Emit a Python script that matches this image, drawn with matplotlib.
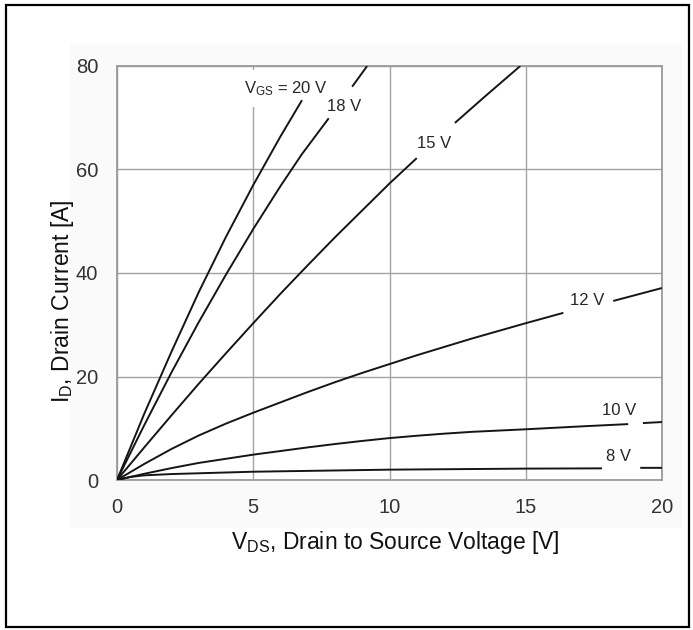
import numpy as np
import matplotlib
matplotlib.use("Agg")
import matplotlib.pyplot as plt
from matplotlib.patches import Rectangle

plt.rcParams['font.family'] = ['Liberation Sans', 'DejaVu Sans']
plt.rcParams['mathtext.default'] = 'regular'

nan = np.nan

# Output characteristics: drain current vs drain-source voltage per gate voltage.
# NaN entries mark where each curve is interrupted by its label.
vds_20 = [0, 1, 2, 3, 4, 5, 6, 6.79]
id_20 = [0, 12.8, 24.8, 36.3, 47.0, 57.0, 66.4, 73.4]

vds_18 = [0, 1, 2, 3, 4, 5, 6, 6.79, 7.77, nan, 8.63, 9.18]
id_18 = [0, 10.6, 20.8, 30.5, 39.7, 48.5, 56.8, 63.0, 69.9, nan, 76.0, 80]

vds_15 = [0, 1, 2, 3, 4, 5, 6, 7, 8, 9, 10, 11.0, nan, 12.4, 13.5, 14.8]
id_15 = [0, 6.3, 12.5, 18.6, 24.5, 30.3, 36.0, 41.5, 46.9, 52.1, 57.3, 62.2,
         nan, 69.0, 74.1, 80]

vds_12 = [0, 1, 2, 3, 4, 5, 6, 7, 8, 9, 10, 11, 12, 13, 14, 15, 16.38,
          nan, 18.21, 19, 20]
id_12 = [0, 3.1, 6.0, 8.6, 10.9, 13.0, 15.0, 17.0, 18.9, 20.7, 22.4, 24.1,
         25.7, 27.3, 28.8, 30.3, 32.3, nan, 34.6, 35.7, 37.1]

vds_10 = [0, 1, 2, 3, 4, 5, 6, 7, 8, 9, 10, 11, 12, 13, 14, 15, 17, 18.76,
          nan, 19.3, 20]
id_10 = [0, 1.2, 2.3, 3.3, 4.1, 4.9, 5.6, 6.3, 6.95, 7.55, 8.1, 8.55, 8.95,
         9.3, 9.55, 9.8, 10.35, 10.8, nan, 11.0, 11.2]

vds_8 = [0, 0.5, 1, 2, 3, 5, 10, 15, 17.8, nan, 19.2, 20]
id_8 = [0, 0.6, 0.9, 1.15, 1.3, 1.6, 2.0, 2.2, 2.25, nan, 2.35, 2.35]

curves = [
    (vds_20, id_20), (vds_18, id_18), (vds_15, id_15),
    (vds_12, id_12), (vds_10, id_10), (vds_8, id_8),
]

# Curve labels and where they sit (V, A)
curve_labels = [r'V$_{GS}$ = 20 V', '18 V', '15 V', '12 V', '10 V', '8 V']
label_x = [6.2, 8.33, 11.62, 17.24, 18.43, 18.4]
label_y = [75.6, 72.1, 65.1, 34.65, 13.5, 4.5]

x_ticks = [0, 5, 10, 15, 20]
y_ticks = [0, 20, 40, 60, 80]

W, H = 693, 630
fig = plt.figure(figsize=(W / 100, H / 100), dpi=100)
fig.patch.set_facecolor('white')

# faint scanned backdrop behind the chart and a black frame round the figure
fig.patches.append(Rectangle((70 / W, 1 - 528 / H), (682 - 70) / W, (528 - 43) / H,
                             transform=fig.transFigure, facecolor='#fafafa',
                             edgecolor='none', zorder=-2))
fig.patches.append(Rectangle((6 / W, 1 - 627 / H), (689 - 6) / W, (627 - 5) / H,
                             transform=fig.transFigure, facecolor='none',
                             edgecolor='black', linewidth=1.6, zorder=5))

ax = fig.add_axes([117 / W, 1 - 480 / H, (662 - 117) / W, (480 - 66) / H])
ax.set_facecolor('white')

for vx, iy in curves:
    ax.plot(vx, iy, color='#151515', linewidth=1.4, zorder=3,
            solid_capstyle='butt', solid_joinstyle='round')

for i, (txt, lx, ly) in enumerate(zip(curve_labels, label_x, label_y)):
    kw = {}
    if i == 0:
        kw['bbox'] = dict(boxstyle='square,pad=0.55', facecolor='white',
                          edgecolor='none')
    ax.text(lx, ly, txt, ha='center', va='center', fontsize=12,
            color='#262626', zorder=1.5, **kw)

ax.set_xlim(0, 20)
ax.set_ylim(0, 80)
ax.set_xticks(x_ticks)
ax.set_yticks(y_ticks)
ax.set_axisbelow(True)
ax.grid(True, color='#a3a3a3', linewidth=1.0)
for s in ax.spines.values():
    s.set_color('#9a9a9a')
    s.set_linewidth(1.3)

ax.tick_params(axis='both', length=0, labelsize=14.5, labelcolor='#333333')
ax.tick_params(axis='x', pad=13)
ax.tick_params(axis='y', pad=13.5)

ax.set_xlabel(r'V$_{DS}$, Drain to Source Voltage [V]', fontsize=16.5,
              color='#111111', va='center')
ax.xaxis.set_label_coords(0.51, -0.152)
ax.set_ylabel(r'I$_{D}$, Drain Current [A]', fontsize=16.5, color='#111111',
              va='center', ha='center')
ax.yaxis.set_label_coords(-0.1, 0.432)

fig.savefig('out.png', dpi=100)
